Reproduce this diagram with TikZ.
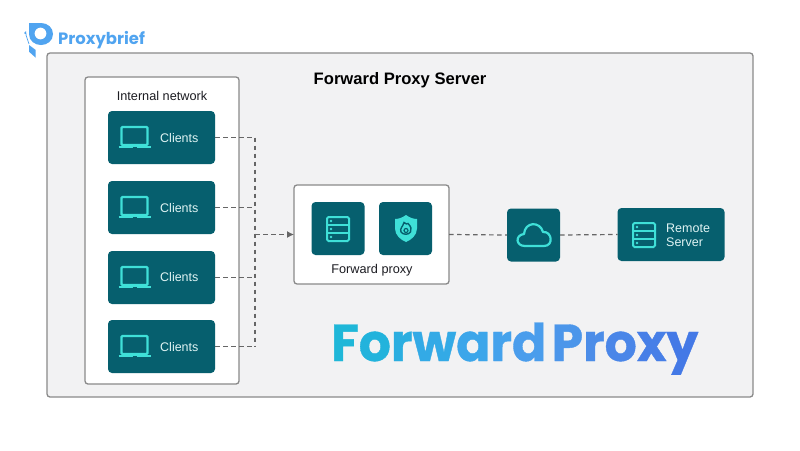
\documentclass[tikz,border=0pt]{standalone}
\usepackage{fontspec}
\setmainfont{Liberation Sans}
\newfontfamily\brandfont{Poppins}
\newfontfamily\bigbrandfont[BoldFeatures={FakeBold=0.7,FakeStretch=0.97,WordSpace=0.5}]{Poppins}
\usetikzlibrary{arrows.meta}
\definecolor{panelbg}{HTML}{F2F2F3}
\definecolor{edgegray}{HTML}{8A8A8A}
\definecolor{tealbox}{HTML}{065F6E}
\definecolor{iconcyan}{HTML}{3FE0D8}
\definecolor{boxtext}{HTML}{DFF3F3}
\definecolor{inktext}{HTML}{1C1C22}
\definecolor{dashgray}{HTML}{666666}
\definecolor{logoblue}{HTML}{50A4F0}
\definecolor{ga}{HTML}{1FB7D8}
\definecolor{gb}{HTML}{22B3DC}
\definecolor{gc}{HTML}{2BAEE0}
\definecolor{gd}{HTML}{33AAE6}
\definecolor{ge}{HTML}{3CA6EA}
\definecolor{gf}{HTML}{44A2EC}
\definecolor{gg}{HTML}{4A9DEC}
\definecolor{gh}{HTML}{4C96EA}
\definecolor{gi}{HTML}{4C8DE8}
\definecolor{gj}{HTML}{4A86E8}
\definecolor{gk}{HTML}{477FE7}
\definecolor{gl}{HTML}{4479E6}
\tikzset{
  panel/.style={draw=edgegray,line width=1.3pt,rounded corners=3pt,inner sep=0pt,outer sep=0pt},
  tealnode/.style={fill=tealbox,rounded corners=4pt,inner sep=0pt,outer sep=0pt},
  clientbox/.style={tealnode,minimum width=107pt,minimum height=53pt},
  squarebox/.style={tealnode,minimum width=53pt,minimum height=53pt},
  boxlabel/.style={text=boxtext,font=\fontsize{12.5}{15}\selectfont,align=left,inner sep=0pt},
  inklabel/.style={text=inktext,font=\fontsize{12.7}{15}\selectfont,inner sep=0pt},
  link/.style={draw=dashgray,line width=1.2pt,dash pattern=on 4.5pt off 3.5pt},
  pics/laptopicon/.style={code={
    \draw[iconcyan,line width=2.3pt,rounded corners=1pt] (-13,-10) rectangle (13,8);
    \draw[iconcyan,line width=2.6pt] (-16,10) -- (16,10);
    \draw[tealbox,line width=1pt] (-2,10) -- (2,10);
  }},
  pics/servericon/.style={code={
    \draw[iconcyan,line width=2pt,rounded corners=1.5pt] (-11,-12) rectangle (11,12);
    \draw[iconcyan,line width=2pt] (-11,-4) -- (11,-4) (-11,4) -- (11,4);
    \fill[iconcyan] (-7,-8) circle (1.3) (-7,0) circle (1.3) (-7,8) circle (1.3);
  }},
  pics/shieldicon/.style={code={
    \fill[iconcyan] (0,-13.5) .. controls (4,-10.5) and (8,-9.5) .. (11,-9.5)
      -- (11,0) .. controls (11,7) and (5,11.5) .. (0,13.5)
      .. controls (-5,11.5) and (-11,7) .. (-11,0) -- (-11,-9.5)
      .. controls (-8,-9.5) and (-4,-10.5) .. cycle;
    \draw[tealbox,line width=1.4pt] (-2,-6) .. controls (0,-4) and (1,-4.5) .. (2,-5)
      .. controls (5,-2) and (6,1) .. (4.5,3.5) .. controls (2.5,6.5) and (-3,6.5) .. (-5,3.5)
      .. controls (-6.5,0) and (-3,-2) .. cycle;
    \draw[tealbox,line width=1.2pt] (0,2) circle (2);
  }},
  pics/cloudicon/.style={code={
    \draw[iconcyan,line width=2.2pt,line join=round] (-9,11) .. controls (-18.5,11) and (-19,0) .. (-10,-1)
      .. controls (-9,-13.5) and (6,-14) .. (9,-3)
      .. controls (18,-4) and (20,11) .. (10,11) -- cycle;
  }},
}
\begin{document}
\begin{tikzpicture}[x=1pt,y=-1pt]
\useasboundingbox (0,0) rectangle (800,450);
\fill[white] (0,0) rectangle (800,450);

% logo
\fill[logoblue,even odd rule] (29,23) -- (41,23) .. controls (48,23) and (53,28) .. (53,34)
  .. controls (53,41) and (47,45) .. (41,45) .. controls (35,45) and (29,41) .. (29,34) -- cycle
  (46.5,33.5) arc[start angle=0,end angle=360,radius=6];
\fill[logoblue] (29,45) -- (35.7,50) -- (35.7,57.7) -- (29,51.7) -- cycle;
\fill[logoblue] (24,33) -- (26,31) -- (26.5,35) -- cycle;
\draw[logoblue,line width=0.7pt] (26,35) -- (29,44);
\node[name=logotext,anchor=west,inner sep=0pt,text=logoblue,font=\brandfont\bfseries\fontsize{16.4}{18}\selectfont] at (58,40) {Proxybrief};

% panels
\node[panel,fill=panelbg,minimum width=706pt,minimum height=344pt] (outer) at (400,225) {};
\node[panel,fill=white,minimum width=154pt,minimum height=307pt] (internal) at (162,230.5) {};
\node[panel,fill=white,minimum width=155pt,minimum height=99pt] (fp) at (371.5,234.5) {};

\node[anchor=center,inner sep=0pt,text=black,font=\bfseries\fontsize{16.6}{20}\selectfont] (title) at (400,80.5) {Forward Proxy Server};
\node[inklabel] (intlabel) at (162,96) {Internal network};
\node[inklabel] (fplabel) at (372,270) {Forward proxy};

% clients
\node[clientbox] (c1) at (161.5,137.5) {};
\node[clientbox] (c2) at (161.5,207.5) {};
\node[clientbox] (c3) at (161.5,277.5) {};
\node[clientbox] (c4) at (161.5,346.5) {};
\node[boxlabel,anchor=west] (l1) at (160,138) {Clients};
\node[boxlabel,anchor=west] (l2) at (160,208) {Clients};
\node[boxlabel,anchor=west] (l3) at (160,277.5) {Clients};
\node[boxlabel,anchor=west] (l4) at (160,347) {Clients};
\pic at (134.5,137) {laptopicon};
\pic at (134.5,207) {laptopicon};
\pic at (134.5,277) {laptopicon};
\pic at (134.5,346) {laptopicon};

% proxy icons
\node[squarebox] (srv) at (338,228.5) {};
\node[squarebox] (shield) at (405.5,228.5) {};
\pic at (338,229) {servericon};
\pic at (406,228.5) {shieldicon};

% cloud and remote
\node[squarebox] (cloud) at (533.5,235) {};
\pic at (534,235) {cloudicon};
\node[clientbox] (remote) at (671,234.5) {};
\pic at (644,235) {servericon};
\node[boxlabel,anchor=west] (rlabel) at (666,235) {Remote\\[-1pt]Server};

% connectors
\coordinate (bus) at (255,234.5);
\coordinate (bustop) at (c1.east -| bus);
\coordinate (busmidA) at (c2.east -| bus);
\coordinate (busmidB) at (c3.east -| bus);
\coordinate (busbottom) at (c4.east -| bus);
\draw[link] (bustop) -- (busbottom);
\draw[link] (c1.east) -- (bustop);
\draw[link] (c2.east) -- (busmidA);
\draw[link] (c3.east) -- (busmidB);
\draw[link] (c4.east) -- (busbottom);
\draw[link,-{Latex[length=7pt,width=7pt]}] (bus) -- (fp.west);
\draw[link] (fp.east) -- (cloud.west);
\draw[link] (cloud.east) -- (remote.west);

% big title
\node[anchor=base west,inner sep=0pt,font=\bigbrandfont\bfseries\fontsize{52}{60}\selectfont] (bigtitle) at (331,361) {%
\textcolor{ga}{F}\textcolor{gb}{o}\textcolor{gc}{r}\textcolor{gd}{w}\textcolor{ge}{a}\textcolor{gf}{r}\textcolor{gg}{d} \textcolor{gh}{P}\textcolor{gi}{r}\textcolor{gj}{o}\textcolor{gk}{x}\textcolor{gl}{y}};
\end{tikzpicture}
\end{document}
